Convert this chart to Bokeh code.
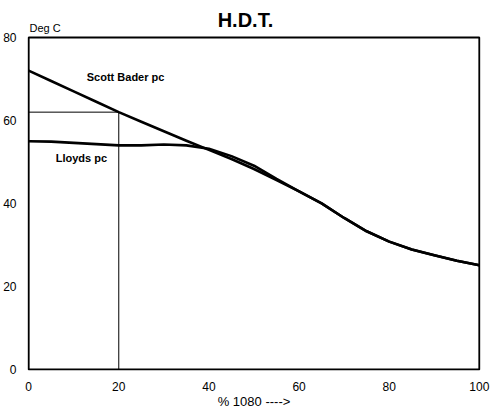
from bokeh.plotting import figure
from bokeh.models import Range1d, FixedTicker, Label
from bokeh.embed import file_html
from bokeh.resources import INLINE

# Data
pct_1080 = [0, 5, 10, 15, 20, 25, 30, 35, 40, 45, 50, 55, 60, 65, 70, 75, 80, 85, 90, 95, 100]
scott_bader = [72.0, 69.5, 67.0, 64.5, 62.0, 59.7, 57.4, 55.1, 52.9, 50.7, 48.3, 45.6, 42.9, 40.0, 36.5, 33.3, 30.8, 28.9, 27.5, 26.2, 25.1]
lloyds = [55.0, 54.9, 54.6, 54.3, 54.0, 54.0, 54.2, 54.0, 53.2, 51.4, 49.1, 45.9, 42.9, 40.0, 36.5, 33.3, 30.8, 28.9, 27.5, 26.2, 25.1]
ref_x = [0, 20, 20]
ref_y = [62, 62, 0]
x_ticks = [0, 20, 40, 60, 80, 100]
y_ticks = [0, 20, 40, 60, 80]

title_text = "H.D.T."
y_label = "Deg C"
x_label = "% 1080 ---->"

x0, x1 = x_ticks[0], x_ticks[-1]
y0, y1 = y_ticks[0], y_ticks[-1]

# frame extends above the data box so that the title and unit label are drawn inside the canvas
p = figure(width=490, height=411, output_backend="svg", toolbar_location=None,
           x_range=Range1d(x0 - 0.25, x1 + 0.25), y_range=Range1d(y0 - 0.25, 88.9),
           min_border_left=27, min_border_right=10, min_border_top=0, min_border_bottom=0)
p.grid.visible = False
p.outline_line_color = None
p.background_fill_color = "white"
p.border_fill_color = "white"

for ax in (p.xaxis[0], p.yaxis[0]):
    ax.axis_line_color = None
    ax.major_tick_line_color = None
    ax.minor_tick_line_color = None
    ax.major_label_text_font = "Liberation Sans"
    ax.major_label_text_font_size = "12px"
    ax.major_label_text_color = "black"
p.xaxis[0].ticker = FixedTicker(ticks=x_ticks)
p.yaxis[0].ticker = FixedTicker(ticks=y_ticks)
p.xaxis[0].major_label_standoff = 5
p.yaxis[0].major_label_standoff = 5
p.xaxis[0].axis_label = x_label
p.xaxis[0].axis_label_text_font = "Liberation Sans"
p.xaxis[0].axis_label_text_font_style = "normal"
p.xaxis[0].axis_label_text_font_size = "13px"
p.xaxis[0].axis_label_text_color = "black"
p.xaxis[0].axis_label_standoff = 0

# data box
p.quad(left=[x0], right=[x1], bottom=[y0], top=[y1], fill_color=None,
       line_color="black", line_width=2)

p.line(ref_x, ref_y, line_color="black", line_width=1)
p.line(pct_1080, scott_bader, line_color="black", line_width=2.6, line_join="round")
p.line(pct_1080, lloyds, line_color="black", line_width=2.6, line_join="round")

bold = "Liberation Sans"
p.add_layout(Label(x=48.1, y=84.3, text=title_text, text_font=bold, text_font_style="bold",
                   text_font_size="20px", text_align="center", text_baseline="middle", text_color="black"))
p.add_layout(Label(x=0.2, y=82.2, text=y_label, text_font="Liberation Sans",
                   text_font_size="11px", text_align="left", text_baseline="middle", text_color="black"))
p.add_layout(Label(x=12.9, y=70.4, text="Scott Bader pc", text_font=bold, text_font_style="bold",
                   text_font_size="11px", text_align="left", text_baseline="middle", text_color="black"))
p.add_layout(Label(x=6.0, y=51.0, text="Lloyds pc", text_font=bold, text_font_style="bold",
                   text_font_size="11px", text_align="left", text_baseline="middle", text_color="black"))

open("out.html", "w").write(file_html(p, INLINE))
